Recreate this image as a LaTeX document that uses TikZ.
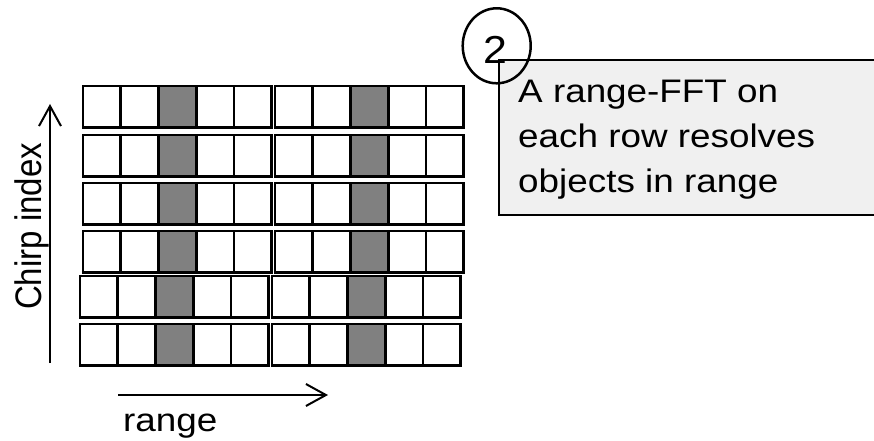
\documentclass[tikz,border=0pt]{standalone}
\usepackage{fontspec}
\setmainfont{Liberation Sans}
\usetikzlibrary{arrows.meta,shapes.geometric}
\begin{document}
\begin{tikzpicture}[x=1pt,y=-1pt,
  cellbox/.style={draw=black,line width=2.6pt},
  graycell/.style={cellbox,fill=black!50},
  axisarrow/.style={line width=2pt,-{Straight Barb[length=20pt,width=22pt,line width=2pt]}},
  lbl/.style={font=\fontsize{32.6}{45}\selectfont,inner sep=0pt},
  notebox/.style={draw=black,line width=2pt,fill=black!6,inner sep=0pt,anchor=north west}]
\useasboundingbox (0,0) rectangle (874,441);
% grid rows: top y, x shift
\foreach \ty/\sh [count=\r] in {86/0,135/0,183/0,231/0,276/-3,324/-3}{
  \foreach \gx/\n [count=\g] in {83/2,159/3,275/2,351/3}{
    \foreach \c in {1,...,\n}{
      \pgfmathsetmacro{\xa}{\gx+\sh+(\c-1)*37.5}
      \pgfmathsetmacro{\xb}{\gx+\sh+\c*37.5}
      \ifnum\c=1 \ifodd\g \def\sty{cellbox}\else\def\sty{graycell}\fi\else\def\sty{cellbox}\fi
      \draw[\sty] (\xa,\ty) rectangle (\xb,\ty+41.5);
    }
  }
}
% note box
\node[notebox,minimum width=390pt,minimum height=155pt] (note) at (497.7,59) {};
\node[lbl,anchor=north west,align=left,xscale=1.13] (notetext) at (518,80) {A range-FFT on\\each row resolves\\objects in range};
% step number
\node[draw=black,line width=2.5pt,ellipse,minimum width=68pt,minimum height=75pt,inner sep=0pt] (num) at (496.7,45.8) {};
\node[font=\fontsize{39}{39}\selectfont,inner sep=0pt,xscale=1.1] (numtext) at (495,49.5) {2};
% axes
\coordinate (cbot) at (50,363);
\coordinate (ctop) at (50,104);
\draw[axisarrow] (cbot) -- (ctop);
\node[font=\fontsize{33}{33}\selectfont,inner sep=0pt,xscale=1.12,rotate=90] (chirp) at (31.5,226.5) {Chirp index};
\coordinate (rl) at (118,395);
\coordinate (rr) at (328,395);
\draw[axisarrow] (rl) -- (rr);
\node[lbl,anchor=base west,xscale=1.13] (range) at (123,431) {range};
\end{tikzpicture}
\end{document}
